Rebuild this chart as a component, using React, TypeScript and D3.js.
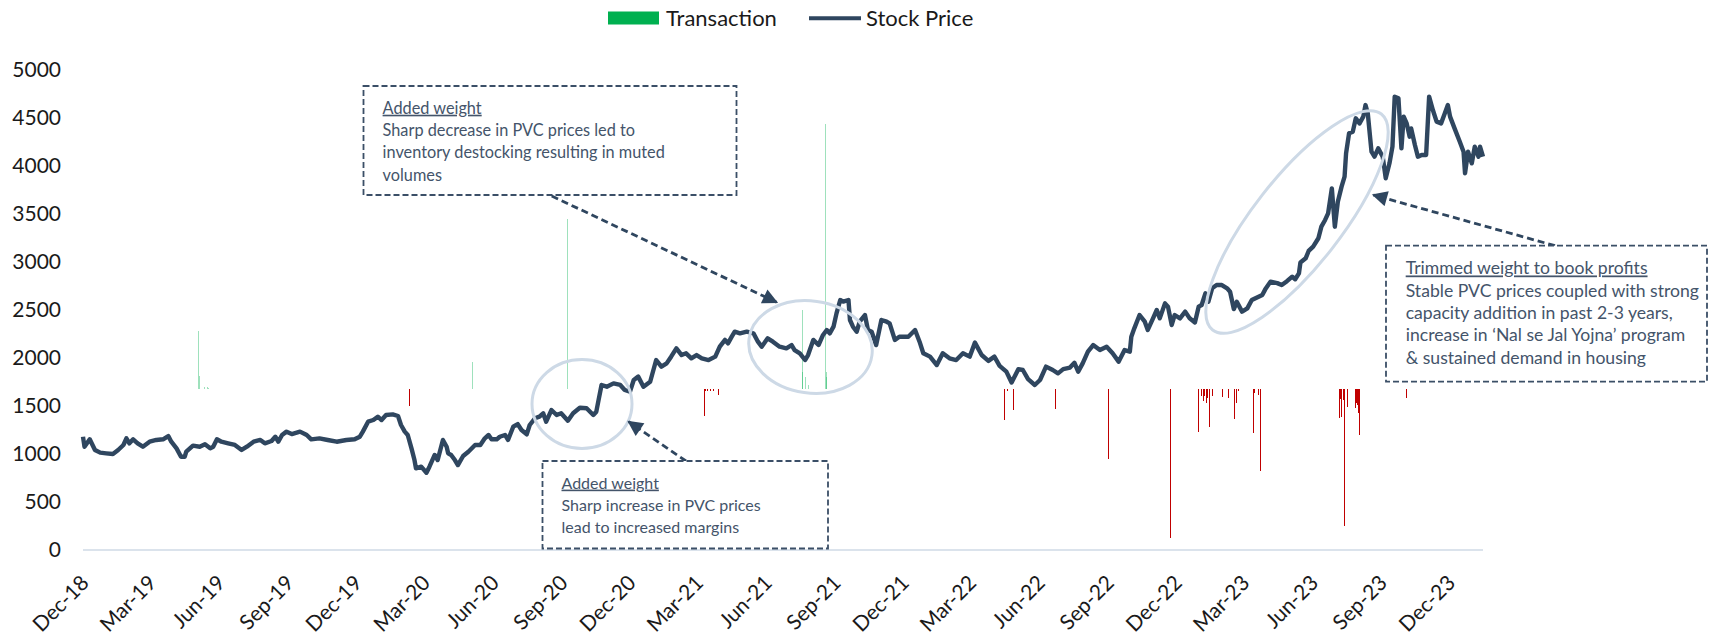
import React, { useEffect, useRef } from 'react';
import * as d3 from 'd3';

// Stock price series (date, close)
const stockPrice: [string, number][] = [
  ['2018-12-01', 1180], ['2018-12-03', 1076], ['2018-12-10', 1153], ['2018-12-17', 1042], ['2018-12-24', 1014],
  ['2019-01-01', 1007], ['2019-01-10', 1000], ['2019-01-17', 1042], ['2019-01-24', 1094], ['2019-01-28', 1163],
  ['2019-02-01', 1111], ['2019-02-06', 1153], ['2019-02-12', 1111], ['2019-02-19', 1076], ['2019-02-28', 1128],
  ['2019-03-09', 1146], ['2019-03-18', 1153], ['2019-03-25', 1187], ['2019-03-29', 1128], ['2019-04-05', 1059],
  ['2019-04-11', 972], ['2019-04-16', 972], ['2019-04-18', 1024], ['2019-04-27', 1087], ['2019-05-06', 1076],
  ['2019-05-13', 1101], ['2019-05-20', 1059], ['2019-05-24', 1076], ['2019-05-29', 1153], ['2019-06-04', 1128],
  ['2019-06-13', 1111], ['2019-06-22', 1094], ['2019-07-01', 1042], ['2019-07-08', 1076], ['2019-07-17', 1128],
  ['2019-07-26', 1146], ['2019-08-01', 1111], ['2019-08-10', 1135], ['2019-08-15', 1180], ['2019-08-19', 1128],
  ['2019-08-24', 1198], ['2019-08-30', 1233], ['2019-09-06', 1208], ['2019-09-17', 1233], ['2019-09-26', 1198],
  ['2019-10-02', 1153], ['2019-10-13', 1163], ['2019-10-24', 1146], ['2019-11-05', 1128], ['2019-11-18', 1146],
  ['2019-11-29', 1153], ['2019-12-06', 1180], ['2019-12-10', 1233], ['2019-12-17', 1337], ['2019-12-24', 1354],
  ['2019-12-30', 1389], ['2020-01-04', 1354], ['2020-01-10', 1406], ['2020-01-19', 1413], ['2020-01-26', 1396],
  ['2020-01-30', 1302], ['2020-02-04', 1233], ['2020-02-08', 1198], ['2020-02-13', 1059], ['2020-02-17', 937],
  ['2020-02-19', 851], ['2020-02-26', 868], ['2020-03-04', 805], ['2020-03-08', 868], ['2020-03-15', 990],
  ['2020-03-19', 937], ['2020-03-26', 1146], ['2020-03-31', 1076], ['2020-04-02', 1007], ['2020-04-06', 990],
  ['2020-04-11', 937], ['2020-04-15', 885], ['2020-04-22', 979], ['2020-04-29', 1024], ['2020-05-08', 1094],
  ['2020-05-15', 1094], ['2020-05-21', 1163], ['2020-05-26', 1198], ['2020-05-30', 1153], ['2020-06-06', 1153],
  ['2020-06-10', 1180], ['2020-06-17', 1198], ['2020-06-21', 1146], ['2020-06-28', 1284], ['2020-07-04', 1312],
  ['2020-07-09', 1250], ['2020-07-16', 1205], ['2020-07-20', 1302], ['2020-07-27', 1372], ['2020-08-02', 1389],
  ['2020-08-07', 1424], ['2020-08-11', 1337], ['2020-08-18', 1458], ['2020-08-25', 1406], ['2020-08-31', 1424],
  ['2020-09-09', 1347], ['2020-09-16', 1424], ['2020-09-25', 1482], ['2020-10-04', 1476], ['2020-10-13', 1406],
  ['2020-10-17', 1441], ['2020-10-20', 1562], ['2020-10-24', 1719], ['2020-10-31', 1701], ['2020-11-09', 1736],
  ['2020-11-18', 1719], ['2020-11-24', 1667], ['2020-12-01', 1649], ['2020-12-06', 1771], ['2020-12-12', 1806],
  ['2020-12-19', 1701], ['2020-12-28', 1753], ['2021-01-05', 1979], ['2021-01-12', 1910], ['2021-01-19', 1944],
  ['2021-01-25', 2014], ['2021-02-01', 2101], ['2021-02-08', 2031], ['2021-02-14', 2049], ['2021-02-21', 1997],
  ['2021-02-28', 2031], ['2021-03-07', 1997], ['2021-03-16', 1979], ['2021-03-25', 2014], ['2021-03-31', 2118],
  ['2021-04-07', 2188], ['2021-04-11', 2153], ['2021-04-16', 2222], ['2021-04-20', 2274], ['2021-04-27', 2257],
  ['2021-05-06', 2274], ['2021-05-15', 2257], ['2021-05-21', 2170], ['2021-05-26', 2118], ['2021-06-03', 2205],
  ['2021-06-10', 2170], ['2021-06-19', 2118], ['2021-06-28', 2101], ['2021-07-05', 2135], ['2021-07-09', 2083],
  ['2021-07-16', 2049], ['2021-07-23', 1979], ['2021-07-27', 2031], ['2021-08-03', 2188], ['2021-08-10', 2135],
  ['2021-08-16', 2240], ['2021-08-21', 2292], ['2021-08-25', 2257], ['2021-08-30', 2326], ['2021-09-03', 2465],
  ['2021-09-08', 2604], ['2021-09-12', 2587], ['2021-09-19', 2604], ['2021-09-21', 2396], ['2021-09-25', 2326],
  ['2021-09-30', 2274], ['2021-10-04', 2378], ['2021-10-11', 2448], ['2021-10-15', 2292], ['2021-10-20', 2274],
  ['2021-10-26', 2135], ['2021-11-02', 2396], ['2021-11-09', 2378], ['2021-11-13', 2361], ['2021-11-20', 2188],
  ['2021-11-26', 2222], ['2021-12-08', 2222], ['2021-12-17', 2292], ['2021-12-23', 2170], ['2021-12-28', 2049],
  ['2022-01-06', 2014], ['2022-01-15', 1927], ['2022-01-23', 2049], ['2022-02-01', 1997], ['2022-02-10', 1979],
  ['2022-02-19', 2049], ['2022-02-28', 2014], ['2022-03-07', 2160], ['2022-03-16', 2031], ['2022-03-25', 1970],
  ['2022-04-02', 2014], ['2022-04-09', 1918], ['2022-04-18', 1858], ['2022-04-25', 1745], ['2022-05-04', 1884],
  ['2022-05-10', 1875], ['2022-05-17', 1780], ['2022-05-26', 1719], ['2022-06-02', 1771], ['2022-06-10', 1910],
  ['2022-06-19', 1875], ['2022-06-26', 1840], ['2022-07-03', 1884], ['2022-07-12', 1900], ['2022-07-18', 1950],
  ['2022-07-23', 1858], ['2022-07-29', 1944], ['2022-08-05', 2066], ['2022-08-12', 2135], ['2022-08-21', 2083],
  ['2022-08-30', 2118], ['2022-09-07', 2049], ['2022-09-15', 1962], ['2022-09-23', 2083], ['2022-09-30', 2066],
  ['2022-10-02', 2222], ['2022-10-06', 2309], ['2022-10-13', 2448], ['2022-10-20', 2378], ['2022-10-24', 2292],
  ['2022-10-31', 2413], ['2022-11-05', 2500], ['2022-11-09', 2413], ['2022-11-16', 2569], ['2022-11-20', 2535],
  ['2022-11-25', 2344], ['2022-11-29', 2448], ['2022-12-06', 2413], ['2022-12-13', 2483], ['2022-12-19', 2413],
  ['2022-12-26', 2370], ['2022-12-31', 2535], ['2023-01-04', 2552], ['2023-01-09', 2674], ['2023-01-13', 2587],
  ['2023-01-18', 2726], ['2023-01-24', 2760], ['2023-01-31', 2760], ['2023-02-07', 2726], ['2023-02-11', 2691],
  ['2023-02-16', 2510], ['2023-02-20', 2585], ['2023-02-27', 2483], ['2023-03-06', 2517], ['2023-03-12', 2604],
  ['2023-03-19', 2630], ['2023-03-26', 2656], ['2023-03-30', 2715], ['2023-04-06', 2795], ['2023-04-15', 2780],
  ['2023-04-21', 2760], ['2023-04-28', 2800], ['2023-05-05', 2847], ['2023-05-09', 2820], ['2023-05-14', 2882],
  ['2023-05-16', 2995], ['2023-05-23', 3038], ['2023-05-27', 3115], ['2023-06-02', 3160], ['2023-06-09', 3247],
  ['2023-06-13', 3368], ['2023-06-18', 3438], ['2023-06-22', 3507], ['2023-06-27', 3767], ['2023-07-01', 3368],
  ['2023-07-05', 3628], ['2023-07-10', 3785], ['2023-07-14', 3889], ['2023-07-16', 4132], ['2023-07-20', 4340],
  ['2023-07-25', 4358], ['2023-07-29', 4497], ['2023-08-03', 4444], ['2023-08-08', 4514], ['2023-08-11', 4635],
  ['2023-08-14', 4549], ['2023-08-19', 4149], ['2023-08-23', 4097], ['2023-08-28', 4184], ['2023-09-03', 4097],
  ['2023-09-07', 3872], ['2023-09-12', 4028], ['2023-09-16', 4201], ['2023-09-19', 4722], ['2023-09-24', 4705],
  ['2023-09-28', 4184], ['2023-10-01', 4514], ['2023-10-05', 4444], ['2023-10-09', 4305], ['2023-10-11', 4392],
  ['2023-10-16', 4219], ['2023-10-20', 4097], ['2023-10-25', 4115], ['2023-10-31', 4115], ['2023-11-04', 4722],
  ['2023-11-09', 4583], ['2023-11-14', 4462], ['2023-11-20', 4444], ['2023-11-25', 4549], ['2023-11-29', 4635],
  ['2023-12-02', 4514], ['2023-12-08', 4392], ['2023-12-15', 4253], ['2023-12-20', 4149], ['2023-12-22', 3924],
  ['2023-12-26', 4149], ['2023-12-31', 4028], ['2024-01-04', 4201], ['2024-01-09', 4097], ['2024-01-11', 4201],
  ['2024-01-15', 4097],
];

// Transactions (secondary, hidden axis): positive = buy, negative = sell
const transactions: [string, number][] = [
  ['2019-05-05', 58], ['2019-05-06', 13], ['2019-05-13', 2], ['2019-05-16', 2], ['2019-05-18', 1.5],
  ['2020-02-11', -17], ['2020-05-04', 27], ['2020-09-09', 170],
  ['2021-03-10', -27], ['2021-03-12', -1.5], ['2021-03-15', -1.5], ['2021-03-18', -1.5], ['2021-03-22', -1.5],
  ['2021-03-29', -6],
  ['2021-07-19', 17], ['2021-07-20', 79], ['2021-07-23', 12], ['2021-07-27', 4],
  ['2021-08-19', 265], ['2021-08-20', 17], ['2021-08-21', 12],
  ['2022-04-15', -31], ['2022-04-19', -1.5], ['2022-04-27', -21], ['2022-06-23', -20],
  ['2022-09-02', -70], ['2022-11-23', -149], ['2022-12-31', -43],
  ['2023-01-04', -7], ['2023-01-06', -12], ['2023-01-08', -7], ['2023-01-10', -14], ['2023-01-12', -9],
  ['2023-01-14', -38], ['2023-01-19', -7], ['2023-02-01', -8], ['2023-02-09', -9], ['2023-02-17', -30],
  ['2023-02-20', -14], ['2023-02-22', -2], ['2023-03-14', -44], ['2023-03-16', -4], ['2023-03-21', -6],
  ['2023-03-24', -82],
  ['2023-07-07', -29], ['2023-07-09', -10], ['2023-07-10', -28], ['2023-07-12', -11], ['2023-07-14', -137],
  ['2023-07-18', -18], ['2023-07-28', -11], ['2023-07-29', -19], ['2023-07-30', -14], ['2023-07-31', -16],
  ['2023-08-01', -21], ['2023-08-02', -24], ['2023-08-03', -46],
  ['2023-10-05', -9],
];

const priceTicks = [0, 500, 1000, 1500, 2000, 2500, 3000, 3500, 4000, 4500, 5000];
const dateRange = ['2018-12-01', '2024-01-15'];
const tradeRange = [-161, 319];

const notes = [
  {
    title: 'Added weight',
    lines: ['Sharp decrease in PVC prices led to', 'inventory destocking resulting in muted', 'volumes'],
  },
  {
    title: 'Added weight',
    lines: ['Sharp increase in PVC prices', 'lead to increased margins'],
  },
  {
    title: 'Trimmed weight to book profits',
    lines: [
      'Stable PVC prices coupled with strong',
      'capacity addition in past 2-3 years,',
      'increase in \u2018Nal se Jal Yojna\u2019 program',
      '& sustained demand in housing',
    ],
  },
];

const WIDTH = 1710;
const HEIGHT = 637;
const FONT = 'Lato, Calibri, sans-serif';
const LINE_COLOR = '#2f465f';
const NOTE_COLOR = '#44546a';

const App: React.FC = () => {
  const svgRef = useRef<SVGSVGElement>(null);

  useEffect(() => {
    const svg = d3.select(svgRef.current);
    svg.selectAll('*').remove();

    const parse = d3.timeParse('%Y-%m-%d');
    const prices = stockPrice.map(([d, v]) => ({ date: parse(d)!, value: v }));
    const trades = transactions.map(([d, v]) => ({ date: parse(d)!, value: v }));

    const x = d3.scaleTime()
      .domain([parse(dateRange[0])!, parse(dateRange[1])!])
      .range([83, 1483]);
    const y = d3.scaleLinear().domain([0, 5000]).range([550, 70]);
    const yTrade = d3.scaleLinear().domain(tradeRange).range([550, 70]);

    // Y axis labels
    svg.append('g')
      .selectAll('text')
      .data(priceTicks)
      .enter()
      .append('text')
      .attr('x', 61)
      .attr('y', d => y(d))
      .attr('dy', '0.35em')
      .attr('text-anchor', 'end')
      .attr('font-size', '21px')
      .attr('fill', '#1a1a1a')
      .text(d => d);

    // X axis baseline
    svg.append('line')
      .attr('x1', x.range()[0])
      .attr('x2', x.range()[1])
      .attr('y1', y(0))
      .attr('y2', y(0))
      .attr('stroke', '#dbe3ec')
      .attr('stroke-width', 2);

    // X labels: quarterly
    const quarterTicks = d3.timeMonth.range(parse('2018-12-01')!, parse('2024-01-01')!, 3);
    const fmt = d3.timeFormat('%b-%y');
    svg.append('g')
      .selectAll('text')
      .data(quarterTicks)
      .enter()
      .append('text')
      .attr('transform', d => `translate(${x(d) + 2},${y(0) + 29}) rotate(-45)`)
      .attr('dy', '0.35em')
      .attr('text-anchor', 'end')
      .attr('font-size', '21px')
      .attr('fill', '#1a1a1a')
      .text(d => fmt(d));

    // Transaction bars
    const tradeZero = yTrade(0);
    svg.append('g')
      .attr('shape-rendering', 'crispEdges')
      .selectAll('rect')
      .data(trades)
      .enter()
      .append('rect')
      .attr('x', d => Math.floor(x(d.date)))
      .attr('width', 1)
      .attr('y', d => (d.value > 0 ? yTrade(d.value) : tradeZero))
      .attr('height', d => Math.max(1, Math.abs(yTrade(d.value) - tradeZero)))
      .attr('fill', d => (d.value > 0 ? '#00b050' : '#c00000'))
      .attr('fill-opacity', d => (d.value > 0 ? 0.38 : 1));

    // Stock price line
    const line = d3.line<{ date: Date; value: number }>()
      .x(d => x(d.date))
      .y(d => y(d.value));
    svg.append('path')
      .datum(prices)
      .attr('d', line)
      .attr('fill', 'none')
      .attr('stroke', LINE_COLOR)
      .attr('stroke-width', 4.4)
      .attr('stroke-linejoin', 'round');

    // Highlight ellipses
    const ellipses = [
      { cx: 582, cy: 404, rx: 50, ry: 44.5, rot: 0 },
      { cx: 810.5, cy: 347, rx: 62, ry: 46, rot: 8 },
      { cx: 1297, cy: 222, rx: 137, ry: 44, rot: -52 },
    ];
    svg.append('g')
      .selectAll('ellipse')
      .data(ellipses)
      .enter()
      .append('ellipse')
      .attr('transform', d => `translate(${d.cx},${d.cy}) rotate(${d.rot})`)
      .attr('rx', d => d.rx)
      .attr('ry', d => d.ry)
      .attr('fill', 'none')
      .attr('stroke', '#cdd9e6')
      .attr('stroke-width', 3);

    // Arrows
    const defs = svg.append('defs');
    defs.append('marker')
      .attr('id', 'arrowHead')
      .attr('viewBox', '0 0 10 10')
      .attr('refX', 9)
      .attr('refY', 5)
      .attr('markerWidth', 6)
      .attr('markerHeight', 5.5)
      .attr('markerUnits', 'strokeWidth')
      .attr('orient', 'auto')
      .append('path')
      .attr('d', 'M0,0 L10,5 L0,10 Z')
      .attr('fill', LINE_COLOR);

    const arrows = [
      { x1: 551.7, y1: 196, x2: 776.7, y2: 302.3 },
      { x1: 686, y1: 461, x2: 628.6, y2: 421.7 },
      { x1: 1555, y1: 245.7, x2: 1373.3, y2: 195 },
    ];
    svg.append('g')
      .selectAll('line')
      .data(arrows)
      .enter()
      .append('line')
      .attr('x1', d => d.x1)
      .attr('y1', d => d.y1)
      .attr('x2', d => d.x2)
      .attr('y2', d => d.y2)
      .attr('stroke', LINE_COLOR)
      .attr('stroke-width', 2.8)
      .attr('stroke-dasharray', '7,4')
      .attr('marker-end', 'url(#arrowHead)');

    // Note boxes
    const boxes = [
      { x: 363.5, y: 86, w: 373, h: 109, tx: 382.6, ty: 108, fs: 16.3 },
      { x: 542.5, y: 461, w: 285.5, h: 87.5, tx: 561.5, ty: 483, fs: 16 },
      { x: 1386, y: 245.7, w: 321, h: 136, tx: 1405.7, ty: 268.3, fs: 17.6 },
    ];
    const lineGap = 22.3;
    boxes.forEach((b, i) => {
      const g = svg.append('g');
      g.append('rect')
        .attr('x', b.x)
        .attr('y', b.y)
        .attr('width', b.w)
        .attr('height', b.h)
        .attr('fill', '#fff')
        .attr('stroke', '#3b4f67')
        .attr('stroke-width', 1.8)
        .attr('stroke-dasharray', '6,3');
      g.append('text')
        .attr('x', b.tx)
        .attr('y', b.ty)
        .attr('dy', '0.35em')
        .attr('font-size', `${b.fs}px`)
        .attr('fill', NOTE_COLOR)
        .style('text-decoration', 'underline')
        .text(notes[i].title);
      notes[i].lines.forEach((t, j) => {
        g.append('text')
          .attr('x', b.tx)
          .attr('y', b.ty + (j + 1) * lineGap)
          .attr('dy', '0.35em')
          .attr('font-size', `${b.fs}px`)
          .attr('fill', NOTE_COLOR)
          .text(t);
      });
    });

    // Legend
    const legend = svg.append('g');
    legend.append('rect')
      .attr('x', 608).attr('y', 11.5).attr('width', 51).attr('height', 13)
      .attr('fill', '#00b050');
    legend.append('text')
      .attr('x', 666).attr('y', 18).attr('dy', '0.35em')
      .attr('font-size', '22px').attr('fill', '#1a1a1a')
      .text('Transaction');
    legend.append('line')
      .attr('x1', 809).attr('x2', 861).attr('y1', 18.3).attr('y2', 18.3)
      .attr('stroke', LINE_COLOR).attr('stroke-width', 4);
    legend.append('text')
      .attr('x', 866).attr('y', 18).attr('dy', '0.35em')
      .attr('font-size', '22px').attr('fill', '#1a1a1a')
      .text('Stock Price');
  }, []);

  return (
    <svg
      ref={svgRef}
      width={WIDTH}
      height={HEIGHT}
      style={{ position: 'absolute', left: 0, top: 0, background: '#fff', fontFamily: FONT }}
    />
  );
};

export default App;
